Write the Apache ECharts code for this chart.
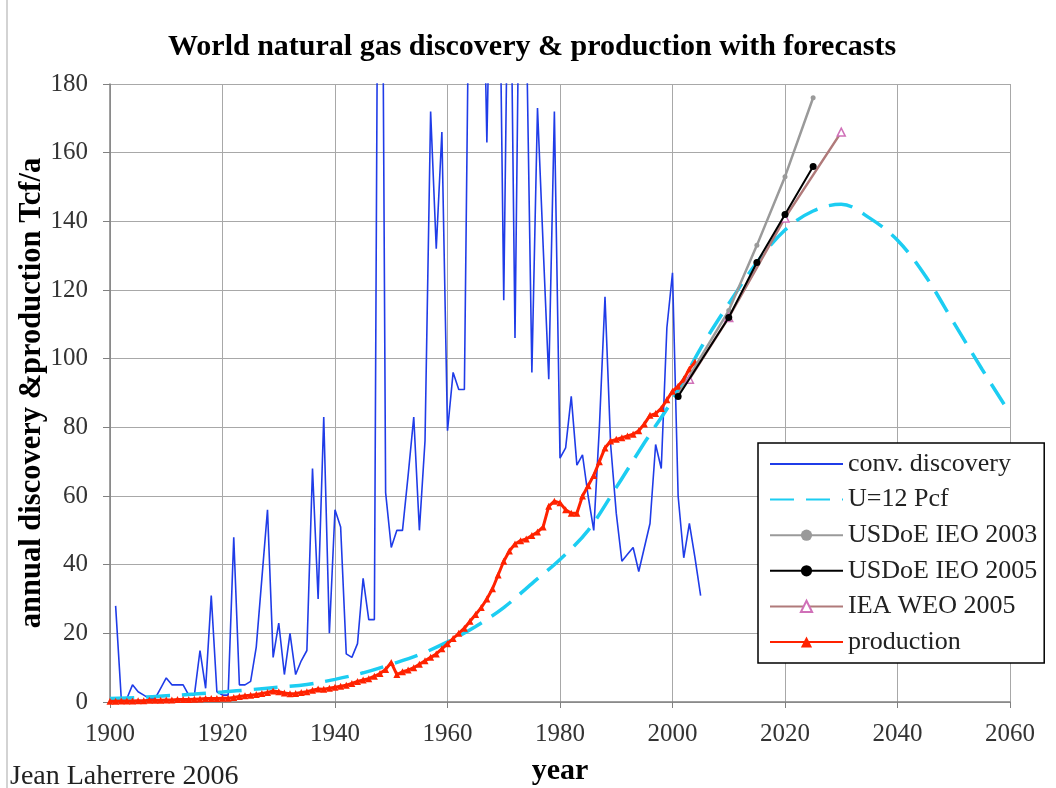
<!DOCTYPE html>
<html>
<head>
<meta charset="utf-8">
<title>World natural gas discovery & production with forecasts</title>
<script src="https://cdn.jsdelivr.net/npm/echarts@6/dist/echarts.min.js"></script>
<style>
  html, body { margin: 0; padding: 0; background: #fff; }
  #chart { width: 1056px; height: 788px; }
</style>
</head>
<body>
<div id="chart"></div>
<script>
// Gas discovery & production chart (Laherrere 2006)

// conventional discovery, one value per year from 1901 to 2005 (Tcf/a)
const discStart = 1901;
const discValues = [
  28, 1, 1, 5, 3, 2, 1, 1, 4, 7,          // 1901-1910
  5, 5, 5, 2, 2, 15, 4, 31, 3, 2,         // 1911-1920
  2, 48, 5, 5, 6, 16, 36, 56, 13, 23,     // 1921-1930
  8, 20, 8, 12, 15, 68, 30, 83, 20, 56,   // 1931-1940
  51, 14, 13, 17, 36, 24, 24, 350, 61, 45, // 1941-1950
  50, 50, 66, 83, 50, 76, 172, 132, 166, 79, // 1951-1960
  96, 91, 91, 240, 250, 250, 163, 250, 250, 117, // 1961-1970
  250, 106, 250, 200, 96, 173, 133, 94, 172, 71, // 1971-1980
  74, 89, 69, 72, 60, 50, 80, 118, 75, 55, // 1981-1990
  41, 43, 45, 38, 45, 52, 75, 68, 109, 125, // 1991-2000
  60, 42, 52, 42, 31                      // 2001-2005
];

// production, one value per year from 1900 to 2004
const prodStart = 1900;
const prodValues = [
  0.2, 0.2, 0.3, 0.3, 0.3, 0.4, 0.4, 0.5, 0.5, 0.5,   // 1900-1909
  0.6, 0.6, 0.7, 0.7, 0.7, 0.8, 0.9, 1.0, 1.0, 1.0,   // 1910-1919
  1.1, 1.1, 1.3, 1.6, 1.8, 2.0, 2.2, 2.5, 2.8, 3.2,   // 1920-1929
  3.0, 2.6, 2.4, 2.5, 2.8, 3.0, 3.4, 3.8, 3.7, 4.0,   // 1930-1939
  4.3, 4.6, 4.9, 5.4, 6.0, 6.4, 6.8, 7.5, 8.3, 9.5,   // 1940-1949
  11.5, 8.0, 8.8, 9.3, 10, 11, 12, 13, 14, 15.5,      // 1950-1959
  17, 18.5, 20, 21.5, 23.5, 25.5, 27.5, 30, 33, 37,   // 1960-1969
  41, 44, 46, 47, 47.5, 48.5, 49.5, 51, 57, 58.5,     // 1970-1979
  58, 56, 55, 55, 60, 63, 66, 70, 74, 76,             // 1980-1989
  76.5, 77, 77.5, 78, 79, 81, 83.5, 84, 85.5, 88,     // 1990-1999
  90.5, 92, 94, 97, 99                                // 2000-2004
];

// Hubbert model U=12 Pcf
const uYears  = [1900, 1905, 1910, 1915, 1920, 1925, 1930, 1935, 1940, 1945, 1950, 1955, 1960,
                 1965, 1970, 1975, 1980, 1985, 1990, 1995, 2000, 2005, 2010, 2015, 2020,
                 2025, 2030, 2035, 2040, 2045, 2050, 2055, 2060];
const uValues = [1, 1.3, 1.8, 2.3, 2.9, 3.6, 4.3, 5.1, 6.6, 8.5, 11, 13.8, 17.5,
                 22, 27.5, 34.5, 41.5, 50, 62.5, 75.5, 88, 103, 116, 128, 137.5,
                 143, 145, 141, 134.5, 124, 110.5, 97, 84];

// forecasts
const ieo2003Years  = [2001, 2010, 2015, 2020, 2025];
const ieo2003Values = [89.5, 114, 133, 153, 176];
const ieo2005Years  = [2001, 2010, 2015, 2020, 2025];
const ieo2005Values = [89, 112, 128, 142, 156];
const weoYears  = [2003, 2010, 2020, 2030];
const weoValues = [94, 112, 141, 166];

// axis ticks
const xTicks = { min: 1900, max: 2060, step: 20 };
const yTicks = { min: 0, max: 180, step: 20 };

function pairs(years, values) {
  return values.map((v, i) => [years[i], v]);
}
function yearly(start, values) {
  return values.map((v, i) => [start + i, v]);
}

const FONT = '"Liberation Serif", "Times New Roman", serif';

const chart = echarts.init(document.getElementById('chart'));

const option = {
  animation: false,
  backgroundColor: '#fff',
  title: {
    text: 'World natural gas discovery & production with forecasts',
    left: 163,
    top: 27,
    textStyle: { fontFamily: FONT, fontSize: 30, fontWeight: 'bold', color: '#000' }
  },
  grid: { left: 110, right: 46, top: 84, bottom: 86, containLabel: false, outerBoundsMode: 'none' },
  legend: {
    orient: 'vertical',
    left: 758,
    top: 443,
    itemWidth: 73,
    itemHeight: 14,
    itemGap: 9.6,
    padding: [8, 7, 8, 11],
    borderColor: '#000',
    borderWidth: 1.5,
    backgroundColor: '#fff',
    textStyle: { fontFamily: FONT, fontSize: 26, lineHeight: 26, color: '#222' },
    data: [
      { name: 'conv. discovery', itemStyle: { opacity: 0 } },
      { name: 'U=12 Pcf', itemStyle: { opacity: 0 } },
      'USDoE IEO 2003', 'USDoE IEO 2005', 'IEA WEO 2005', 'production'
    ]
  },
  xAxis: {
    type: 'value',
    min: xTicks.min,
    max: xTicks.max,
    interval: xTicks.step,
    name: 'year',
    nameLocation: 'middle',
    nameGap: 54,
    nameMoveOverlap: false,
    nameTextStyle: { fontFamily: FONT, fontSize: 30, fontWeight: 'bold', color: '#000' },
    axisLine: { onZero: false, lineStyle: { color: '#808080', width: 1.5 } },
    axisTick: { show: true, length: 6, lineStyle: { color: '#808080' } },
    axisLabel: {
      margin: 20,
      fontFamily: FONT, fontSize: 25, color: '#333',
      formatter: v => String(v)
    },
    splitLine: { show: true, lineStyle: { color: '#a8a8a8', width: 1 } }
  },
  yAxis: {
    type: 'value',
    min: yTicks.min,
    max: yTicks.max,
    interval: yTicks.step,
    name: 'annual discovery &production Tcf/a',
    nameLocation: 'middle',
    nameRotate: 90,
    nameGap: 62,
    nameMoveOverlap: false,
    nameTextStyle: { fontFamily: FONT, fontSize: 30.5, fontWeight: 'bold', color: '#000' },
    axisLine: { show: true, lineStyle: { color: '#808080', width: 1.5 } },
    axisTick: { show: true, length: 7, lineStyle: { color: '#808080' } },
    axisLabel: { margin: 22, fontFamily: FONT, fontSize: 25, color: '#333' },
    splitLine: { show: true, lineStyle: { color: '#a8a8a8', width: 1 } }
  },
  graphic: [
    {
      type: 'text',
      left: 10,
      top: 763,
      style: { text: 'Jean Laherrere 2006', fontFamily: FONT, fontSize: 28, fill: '#222' }
    },
    {
      type: 'line',
      shape: { x1: 7, y1: 0, x2: 7, y2: 788 },
      style: { stroke: '#c4c4c4', lineWidth: 1.5 }
    }
  ],
  series: [
    {
      name: 'conv. discovery',
      type: 'line',
      data: yearly(discStart, discValues),
      symbol: 'none',
      clip: true,
      lineStyle: { color: '#1f3ce8', width: 1.6 },
      itemStyle: { color: '#1f3ce8' },
      z: 2
    },
    {
      name: 'U=12 Pcf',
      type: 'line',
      data: pairs(uYears, uValues),
      smooth: 0.35,
      symbol: 'none',
      lineStyle: { color: '#1ccdf2', width: 3.5, type: [24, 12] },
      itemStyle: { color: '#1ccdf2' },
      z: 3
    },
    {
      name: 'production',
      type: 'line',
      data: yearly(prodStart, prodValues),
      symbol: 'triangle',
      symbolSize: 7,
      lineStyle: { color: '#ff2200', width: 3 },
      itemStyle: { color: '#ff2200' },
      z: 4
    },
    {
      name: 'USDoE IEO 2003',
      type: 'line',
      data: pairs(ieo2003Years, ieo2003Values),
      symbol: 'circle',
      symbolSize: 5,
      lineStyle: { color: '#9a9a9a', width: 2.5 },
      itemStyle: { color: '#9a9a9a' },
      z: 5
    },
    {
      name: 'IEA WEO 2005',
      type: 'line',
      data: pairs(weoYears, weoValues),
      symbol: 'triangle',
      symbolSize: 8,
      lineStyle: { color: '#b07a7a', width: 2.5 },
      itemStyle: { color: '#fff', borderColor: '#d070b8', borderWidth: 1.5 },
      z: 6
    },
    {
      name: 'USDoE IEO 2005',
      type: 'line',
      data: pairs(ieo2005Years, ieo2005Values),
      symbol: 'circle',
      symbolSize: 7,
      lineStyle: { color: '#000', width: 2 },
      itemStyle: { color: '#000' },
      z: 7
    }
  ]
};

chart.setOption(option);

window.addEventListener('resize', function () {
  chart.resize();
});
</script>
</body>
</html>
